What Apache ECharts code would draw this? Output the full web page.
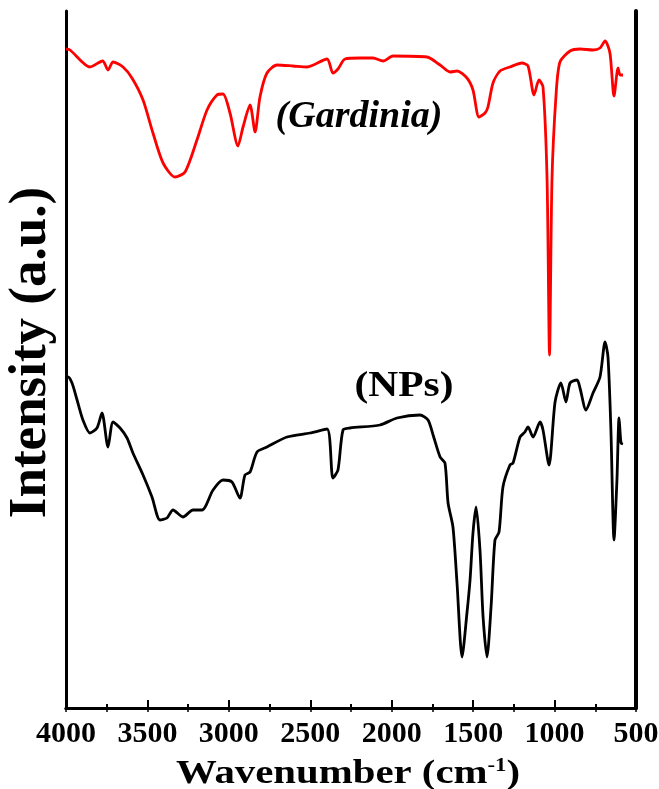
<!DOCTYPE html>
<html lang="en">
<head>
    <meta charset="UTF-8">
    <title>FTIR Gardinia / NPs</title>
    <script src="https://cdn.jsdelivr.net/npm/echarts@6/dist/echarts.min.js"></script>
</head>
<body style="margin:0">
<div id="chart" style="width: 659px; height: 789px"></div>
<script>
    // wavenumbers (cm-1) and intensities (a.u.)
    var gardWn = [4000, 3975, 3853, 3775, 3742, 3711, 3650, 3595, 3527, 3466, 3404, 3331, 3269, 3196, 3134,
        3073, 3036, 2993, 2944, 2913, 2870, 2839, 2809, 2766, 2704, 2606, 2520, 2397, 2361, 2330, 2287,
        2195, 2115, 2053, 1992, 1783, 1703, 1642, 1599, 1538, 1501, 1464, 1427, 1409, 1378, 1335, 1274,
        1200, 1163, 1126, 1096, 1071, 1046, 1031, 1016, 991, 967, 905, 844, 764, 721, 690, 660, 635,
        610, 598, 580];
    var gardI = [659, 658, 641, 647, 638, 646, 641, 630, 608, 575, 545, 531, 536, 568, 598,
        613, 614, 595, 562, 581, 603, 576, 611, 635, 643, 642, 641, 649, 635, 639, 649,
        650, 650, 647, 652, 651, 643, 636, 637, 630, 618, 591, 595, 601, 625, 637, 641,
        645, 642, 613, 628, 621, 528, 353, 528, 613, 646, 657, 659, 658, 660, 667, 655, 612,
        640, 633, 633];

    var npsWn = [4000, 3988, 3963, 3932, 3896, 3853, 3810, 3779, 3742, 3711, 3668, 3625, 3589, 3527, 3472,
        3423, 3380, 3343, 3282, 3220, 3165, 3097, 3036, 2981, 2932, 2901, 2870, 2827, 2766, 2643, 2502,
        2397, 2361, 2330, 2299, 2256, 2072, 1968, 1826, 1777, 1746, 1703, 1673, 1654, 1624, 1599, 1568,
        1538, 1519, 1501, 1482, 1458, 1439, 1415, 1390, 1366, 1341, 1317, 1274, 1255, 1212, 1182, 1163,
        1132, 1089, 1071, 1034, 997, 961, 930, 905, 862, 844, 807, 764, 721, 690, 672, 654, 635, 617,
        604, 592, 580];
    var npsI = [331, 331, 325, 308, 288, 275, 280, 295, 261, 286, 280, 270, 255, 233, 211,
        188, 190, 198, 191, 198, 198, 218, 228, 226, 210, 233, 236, 256, 261, 271, 275,
        279, 230, 238, 278, 280, 283, 290, 293, 288, 273, 251, 245, 205, 181, 125, 51,
        95, 128, 175, 201, 158, 91, 51, 101, 168, 176, 221, 243, 245, 271, 276, 281,
        271, 286, 278, 243, 306, 325, 306, 325, 328, 320, 298, 315, 331, 366, 351, 278, 168, 228,
        290, 265, 264];

    var xTicks = [4000, 3500, 3000, 2500, 2000, 1500, 1000, 500];

    function pairs(xs, ys) {
        var out = [];
        for (var i = 0; i < xs.length; i++) {
            out.push([xs[i], ys[i]]);
        }
        return out;
    }

    var serif = '"Liberation Serif", "Times New Roman", serif';
    var myChart = echarts.init(document.getElementById('chart'));
    var option = {
        backgroundColor: '#fff',
        animation: false,
        grid: {left: 66, right: 23, top: 11, bottom: 81, containLabel: false, outerBoundsMode: 'none'},
        xAxis: [{
            type: 'value',
            inverse: true,
            min: 500,
            max: 4000,
            interval: 500,
            splitLine: {show: false},
            axisLine: {lineStyle: {color: '#000', width: 3}},
            axisTick: {inside: true, length: 8, lineStyle: {color: '#000', width: 2}},
            minorTick: {show: true, splitNumber: 2, length: 4, lineStyle: {color: '#000', width: 2}},
            axisLabel: {
                margin: 11,
                color: '#000',
                fontFamily: serif,
                fontWeight: 'bold',
                fontSize: 30,
                formatter: function (v) {
                    return xTicks.indexOf(v) >= 0 ? String(v) : '';
                }
            }
        }, {
            type: 'value',
            position: 'top',
            inverse: true,
            min: 500,
            max: 4000,
            interval: 500,
            splitLine: {show: false},
            axisLine: {lineStyle: {color: '#000', width: 3}},
            axisTick: {inside: true, length: 4, lineStyle: {color: '#000', width: 1.5}},
            minorTick: {show: true, splitNumber: 2, length: 4, lineStyle: {color: '#000', width: 1.5}},
            axisLabel: {show: false}
        }],
        yAxis: [{
            type: 'value',
            min: 0,
            max: 697,
            splitLine: {show: false},
            axisLine: {show: true, lineStyle: {color: '#000', width: 3}},
            axisTick: {show: false},
            axisLabel: {show: false},
            name: 'Intensity (a.u.)',
            nameLocation: 'middle',
            nameGap: 8,
            nameTextStyle: {fontFamily: serif, fontWeight: 'bold', fontSize: 53, color: '#000', padding: [0, 0, 0, 14]}
        }, {
            type: 'value',
            position: 'right',
            min: 0,
            max: 697,
            splitLine: {show: false},
            axisLine: {show: true, lineStyle: {color: '#000', width: 4}},
            axisTick: {show: false},
            axisLabel: {show: false}
        }],
        graphic: [{
            type: 'text',
            x: 348,
            y: 774,
            scaleX: 1.2,
            style: {
                text: '{t|Wavenumber (cm}{s|-1}{t|)}',
                align: 'center',
                verticalAlign: 'middle',
                rich: {
                    t: {fontFamily: serif, fontWeight: 'bold', fontSize: 34, fill: '#000'},
                    s: {fontFamily: serif, fontWeight: 'bold', fontSize: 19, fill: '#000', verticalAlign: 'top', padding: [0, 0, 14, 0]}
                }
            }
        }, {
            type: 'text',
            x: 359,
            y: 117,
            style: {text: '(Gardinia)', fill: '#000', align: 'center', verticalAlign: 'middle', font: 'italic bold 38px ' + serif}
        }, {
            type: 'text',
            x: 404,
            y: 387,
            scaleX: 1.15,
            style: {text: '(NPs)', fill: '#000', align: 'center', verticalAlign: 'middle', font: 'bold 36px ' + serif}
        }],
        series: [{
            name: 'Gardinia',
            type: 'line',
            data: pairs(gardWn, gardI),
            showSymbol: false,
            smooth: 0.25,
            lineStyle: {color: '#ff0000', width: 2.8},
            itemStyle: {color: '#ff0000'}
        }, {
            name: 'NPs',
            type: 'line',
            data: pairs(npsWn, npsI),
            showSymbol: false,
            smooth: 0.25,
            lineStyle: {color: '#000', width: 2.8},
            itemStyle: {color: '#000'}
        }]
    };
    myChart.setOption(option);
</script>
</body>
</html>
